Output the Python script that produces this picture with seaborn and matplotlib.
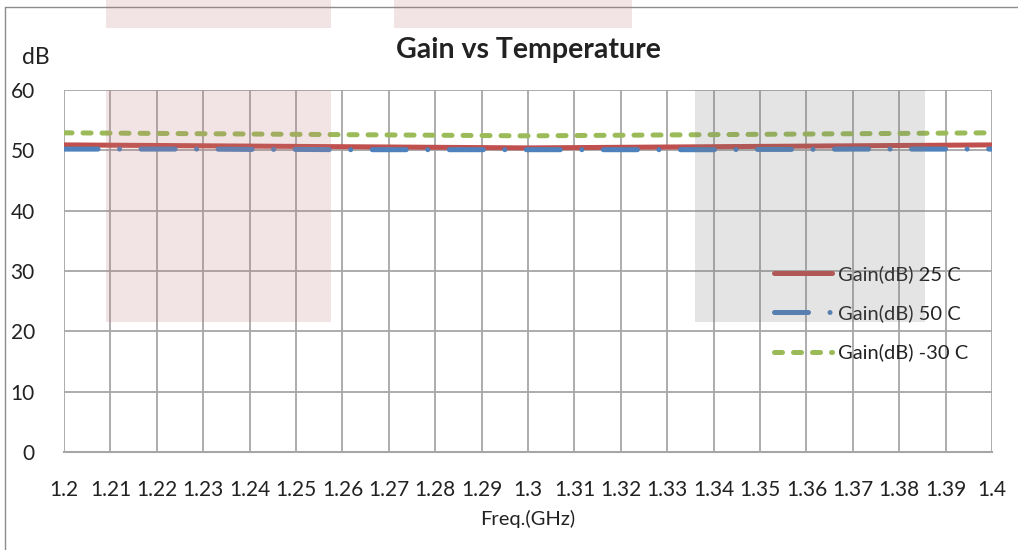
import numpy as np
import pandas as pd
import matplotlib
matplotlib.use('Agg')
import matplotlib.pyplot as plt
import seaborn as sns
from matplotlib.patches import Rectangle
from matplotlib.lines import Line2D

# Veriler
freq = [1.20, 1.21, 1.22, 1.23, 1.24, 1.25, 1.26, 1.27, 1.28, 1.29, 1.30,
        1.31, 1.32, 1.33, 1.34, 1.35, 1.36, 1.37, 1.38, 1.39, 1.40]
gain_25 = [50.9, 50.85, 50.8, 50.75, 50.7, 50.65, 50.6, 50.55, 50.5, 50.45, 50.4,
           50.45, 50.5, 50.55, 50.6, 50.65, 50.7, 50.75, 50.8, 50.85, 50.9]
gain_50 = [50.2, 50.2, 50.2, 50.2, 50.15, 50.15, 50.1, 50.1, 50.1, 50.1, 50.1,
           50.1, 50.1, 50.1, 50.1, 50.15, 50.15, 50.2, 50.2, 50.2, 50.2]
gain_m30 = [52.9, 52.85, 52.8, 52.75, 52.7, 52.65, 52.6, 52.55, 52.5, 52.45, 52.4,
            52.45, 52.5, 52.55, 52.6, 52.65, 52.7, 52.75, 52.8, 52.85, 52.9]
labels = ['Gain(dB) 25 C', 'Gain(dB) 50 C', 'Gain(dB) -30 C']
x_ticks = [1.2, 1.21, 1.22, 1.23, 1.24, 1.25, 1.26, 1.27, 1.28, 1.29, 1.3,
           1.31, 1.32, 1.33, 1.34, 1.35, 1.36, 1.37, 1.38, 1.39, 1.4]
y_ticks = [0, 10, 20, 30, 40, 50, 60]

df = pd.DataFrame({'Freq': freq, labels[0]: gain_25, labels[1]: gain_50, labels[2]: gain_m30})

sns.set_style('white')
plt.rcParams['font.family'] = ['Lato', 'DejaVu Sans']

fig = plt.figure(figsize=(10.18, 5.5), dpi=100)
ax = fig.add_axes([0.0629, 0.1782, 0.9116, 0.6582])

red = '#c0504d'
blue = '#4f81bd'
green = '#9bbb59'
grid_c = '#a6a6a6'
txt_c = '#222222'

ax.set_xlim(1.2, 1.4)
ax.set_ylim(0, 60)
ax.set_xticks(x_ticks)
ax.set_xticklabels([('%g' % t) for t in x_ticks])
ax.set_yticks(y_ticks)
ax.grid(True, color=grid_c, linewidth=1.3, axis='both')
ax.set_axisbelow(True)
for s in ['left', 'right', 'top']:
    ax.spines[s].set_visible(False)
ax.spines['bottom'].set_color(grid_c)
ax.spines['bottom'].set_linewidth(1.5)
ax.tick_params(axis='both', length=0, colors=txt_c)
ax.tick_params(axis='x', pad=20, labelsize=15)
ax.tick_params(axis='y', pad=21, labelsize=15)

lw = 3.6
sns.lineplot(data=df, x='Freq', y=labels[0], ax=ax, color=red, linewidth=lw, label=labels[0])
sns.lineplot(data=df, x='Freq', y=labels[1], ax=ax, color=blue, linewidth=lw, label=labels[1])
sns.lineplot(data=df, x='Freq', y=labels[2], ax=ax, color=green, linewidth=lw, label=labels[2])
lines = ax.get_lines()
lines[1].set_dashes([6.8, 4.3, 0.01, 4.3])
lines[1].set_dash_capstyle('round')
lines[2].set_dashes([1.6, 2.2])
lines[2].set_dash_capstyle('round')

ax.set_xlabel('Freq.(GHz)', fontsize=14.5, labelpad=7, color=txt_c)
ax.set_ylabel('')
ax.set_title('Gain vs Temperature', fontsize=20.5, fontweight='bold', pad=23, color=txt_c)
fig.text(22 / 1018, 1 - 57 / 550, 'dB', fontsize=16.5, va='center', ha='left', color=txt_c)

handles = [Line2D([0], [0], color=red, linewidth=lw),
           Line2D([0], [0], color=blue, linewidth=lw, dashes=[6.8, 4.3, 0.01, 4.3], dash_capstyle='round'),
           Line2D([0], [0], color=green, linewidth=lw, dashes=[1.6, 2.2], dash_capstyle='round')]
leg = ax.legend(handles, labels, loc='upper left', bbox_to_anchor=(0.745, 0.565),
                frameon=False, fontsize=14.5, handlelength=2.9, handletextpad=0.3,
                labelspacing=1.05)
for t in leg.get_texts():
    t.set_color(txt_c)

# Yarı saydam kutular (resimdeki üst katman)
def px_rect(x0, y0, x1, y1, color, alpha):
    fig.patches.append(Rectangle((x0 / 1018, 1 - y1 / 550), (x1 - x0) / 1018, (y1 - y0) / 550,
                                 transform=fig.transFigure, facecolor=color, alpha=alpha,
                                 edgecolor='none', zorder=10))

px_rect(106, 90, 331, 322, (190 / 255, 120 / 255, 120 / 255), 0.2)
px_rect(106, 0, 331, 28, (190 / 255, 120 / 255, 120 / 255), 0.2)
px_rect(394, 0, 632, 28, (190 / 255, 120 / 255, 120 / 255), 0.2)
px_rect(695, 90, 925, 322, (120 / 255, 120 / 255, 120 / 255), 0.2)

# Grafik çerçevesi
fig.add_artist(Line2D([5 / 1018, 5 / 1018], [0, 1 - 7 / 550], color='#8c8c8c', linewidth=1.0,
                      transform=fig.transFigure))
fig.add_artist(Line2D([5 / 1018, 1], [1 - 7 / 550, 1 - 7 / 550], color='#8c8c8c', linewidth=1.0,
                      transform=fig.transFigure))

fig.savefig('out.png', dpi=100)
